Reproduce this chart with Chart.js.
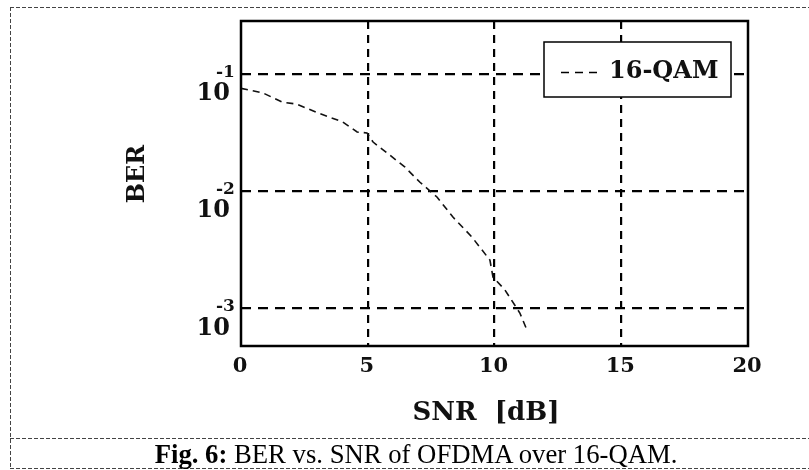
<!DOCTYPE html>
<html>
<head>
<meta charset="utf-8">
<script src="https://cdn.jsdelivr.net/npm/chart.js@4.4.1/dist/chart.umd.min.js"></script>
<style>
  body { margin: 0; background: #fff; }
  #wrap { position: relative; width: 809px; height: 470px; overflow: hidden; }
  #chart-box { position: absolute; left: 0; top: 0; width: 809px; height: 470px; }
  .hline { position: absolute; left: 10px; right: 0; height: 1px;
    background: repeating-linear-gradient(to right, #444 0 4px, transparent 4px 6px); }
  .vline { position: absolute; left: 10px; top: 7px; width: 1px; height: 462px;
    background: repeating-linear-gradient(to bottom, #444 0 4px, transparent 4px 6px); }
  #caption { position: absolute; left: 10px; right: 0; top: 440px; height: 28px;
    font-family: "Liberation Serif", "Times New Roman", serif; font-size: 26.7px;
    color: #000; line-height: 28px; white-space: nowrap; }
  #caption span.inner { position: absolute; left: 406px; transform: translateX(-50%); }
</style>
</head>
<body>
<div id="wrap">
  <div id="chart-box"><canvas id="berChart"></canvas></div>
  <div class="hline" style="top:7px"></div>
  <div class="hline" style="top:438px"></div>
  <div class="hline" style="top:468px"></div>
  <div class="vline"></div>
  <div id="caption"><span class="inner"><b>Fig. 6:</b> BER vs. SNR of OFDMA over 16-QAM.</span></div>
</div>
<script>
const snrDb = [0, 0.87, 1.62, 2.2, 3.04, 4.02, 4.58, 4.97, 5.21, 5.72, 6.47, 7.06, 7.73, 8.36, 9.11, 9.82, 9.94, 10.41, 11.0, 11.28];
const berValues = [0.0752, 0.0686, 0.0574, 0.0552, 0.0463, 0.0388, 0.0319, 0.0313, 0.0262, 0.0215, 0.0160, 0.0119, 0.00891, 0.00601, 0.00406, 0.00258, 0.00185, 0.00144, 0.000914, 0.000655];
const xTicks = [0, 5, 10, 15, 20];
const yTicks = [1e-3, 1e-2, 1e-1];
const yTickExp = ['-3', '-2', '-1'];
const seriesLabel = '16-QAM';

const axisFont = '"DejaVu Serif", serif';

const annotate = {
    id: 'annotate',
    afterDatasetsDraw(chart) {
        const { ctx, chartArea: a, scales: { x, y } } = chart;
        ctx.save();

        // plot frame
        ctx.strokeStyle = '#000';
        ctx.lineWidth = 2.5;
        ctx.setLineDash([]);
        ctx.strokeRect(a.left, a.top, a.right - a.left, a.bottom - a.top);

        // x tick labels
        ctx.fillStyle = '#111';
        ctx.font = 'bold 21px ' + axisFont;
        ctx.textAlign = 'center';
        ctx.textBaseline = 'middle';
        xTicks.forEach(v => ctx.fillText(String(v), x.getPixelForValue(v) - 1, 367));

        // y tick labels as 10 with superscript exponent
        yTicks.forEach((v, i) => {
            const py = y.getPixelForValue(v);
            ctx.font = 'bold 24px ' + axisFont;
            ctx.textAlign = 'right';
            ctx.textBaseline = 'top';
            ctx.fillText('10', 230, py + 8);
            ctx.font = 'bold 17px ' + axisFont;
            ctx.textAlign = 'left';
            ctx.textBaseline = 'alphabetic';
            ctx.fillText(yTickExp[i], 216, py + 3);
        });

        // axis titles
        ctx.font = 'bold 26px ' + axisFont;
        ctx.textAlign = 'center';
        ctx.textBaseline = 'middle';
        ctx.fillText('SNR  [dB]', 486, 413);
        ctx.save();
        ctx.translate(138, 174);
        ctx.rotate(-Math.PI / 2);
        ctx.font = 'bold 24px ' + axisFont;
        ctx.fillText('BER', 0, 0);
        ctx.restore();

        // legend box
        const lx = 544, ly = 42, lw = 187, lh = 55;
        ctx.fillStyle = '#fff';
        ctx.fillRect(lx, ly, lw, lh);
        ctx.lineWidth = 1.5;
        ctx.strokeStyle = '#000';
        ctx.strokeRect(lx, ly, lw, lh);
        ctx.beginPath();
        ctx.setLineDash([8, 6]);
        ctx.lineWidth = 1.5;
        ctx.moveTo(561, ly + lh / 2 + 3);
        ctx.lineTo(601, ly + lh / 2 + 3);
        ctx.stroke();
        ctx.setLineDash([]);
        ctx.fillStyle = '#111';
        ctx.font = 'bold 24px ' + axisFont;
        ctx.textAlign = 'left';
        ctx.textBaseline = 'middle';
        ctx.fillText(chart.data.datasets[0].label, 609, ly + lh / 2 + 2);

        ctx.restore();
    }
};

const gridStyle = (edgeMin, edgeMax) => ({
    color: c => (c.tick && c.tick.value > edgeMin && c.tick.value < edgeMax) ? '#000' : 'rgba(0,0,0,0)',
    lineWidth: 2.2,
    drawTicks: false
});

new Chart(document.getElementById('berChart'), {
    type: 'line',
    data: {
        datasets: [{
            label: seriesLabel,
            data: snrDb.map((s, i) => ({ x: s, y: berValues[i] })),
            borderColor: '#111',
            borderWidth: 1.6,
            borderDash: [7, 5],
            pointRadius: 0,
            tension: 0,
            fill: false
        }]
    },
    options: {
        responsive: true,
        maintainAspectRatio: false,
        animation: false,
        layout: { padding: { left: 241, top: 21, right: 61, bottom: 124 } },
        plugins: { legend: { display: false }, tooltip: { enabled: false } },
        scales: {
            x: {
                type: 'linear',
                min: 0,
                max: 20,
                afterBuildTicks: s => { s.ticks = xTicks.map(v => ({ value: v })); },
                ticks: { display: false },
                grid: gridStyle(0, 20),
                border: { display: false, dash: [8, 6] }
            },
            y: {
                type: 'logarithmic',
                min: Math.pow(10, -3.32),
                max: Math.pow(10, -0.55),
                afterBuildTicks: s => { s.ticks = yTicks.map(v => ({ value: v })); },
                ticks: { display: false },
                grid: gridStyle(0, 1),
                border: { display: false, dash: [10, 7] }
            }
        }
    },
    plugins: [annotate]
});
</script>
</body>
</html>
